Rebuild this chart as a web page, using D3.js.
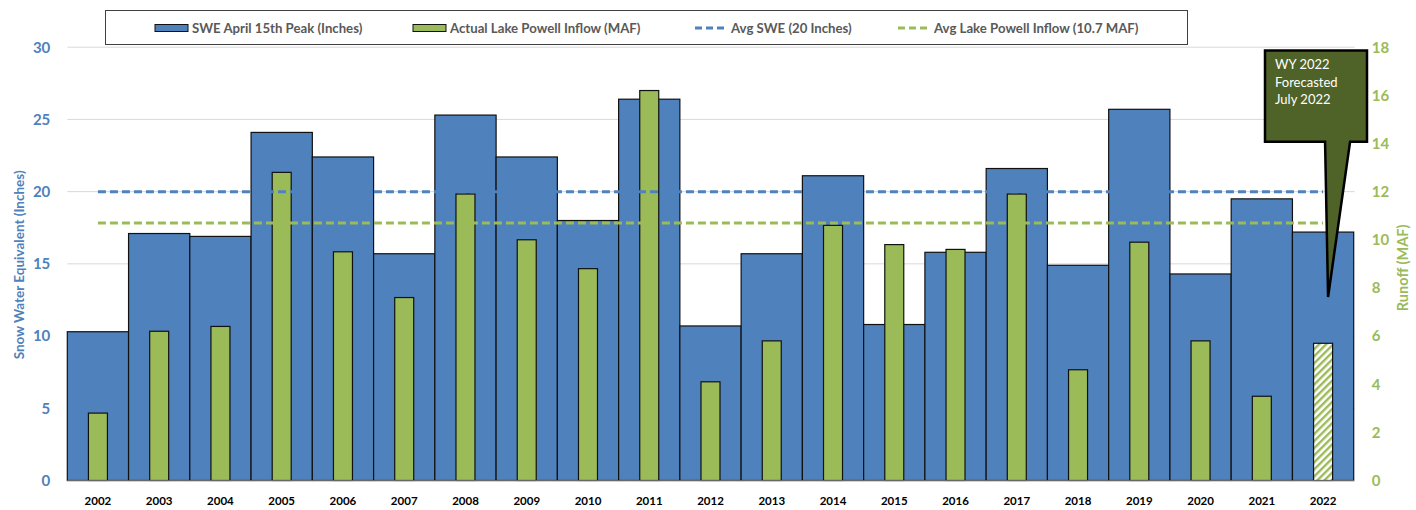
<!DOCTYPE html>
<meta charset="utf-8">
<style>
    body { margin: 0; background: #fff; }
    svg text { font-family: Lato, "Open Sans", sans-serif; }
    .grid line { stroke: #d9d9d9; stroke-width: 1; }
    .axis path { display: none; }
    .axis line { display: none; }
</style>
<svg width="1416" height="510"></svg>
<script src="https://d3js.org/d3.v7.min.js"></script>
<script>
    // values
    var years = ["2002","2003","2004","2005","2006","2007","2008","2009","2010","2011","2012",
                 "2013","2014","2015","2016","2017","2018","2019","2020","2021","2022"];
    var swe = [10.3,17.1,16.9,24.1,22.4,15.7,25.3,22.4,18.0,26.4,10.7,
               15.7,21.1,10.8,15.8,21.6,14.9,25.7,14.3,19.5,17.2];
    var inflow = [2.8,6.2,6.4,12.8,9.5,7.6,11.9,10.0,8.8,16.2,4.1,
                  5.8,10.6,9.8,9.6,11.9,4.6,9.9,5.8,3.5,5.7];
    var forecastYear = "2022";
    var avgSwe = 20, avgInflow = 10.7;
    var leftTicks = [0,5,10,15,20,25,30];
    var rightTicks = [0,2,4,6,8,10,12,14,16,18];
    var legendLabels = ["SWE April 15th Peak (Inches)", "Actual Lake Powell Inflow (MAF)",
                        "Avg SWE (20 Inches)", "Avg Lake Powell Inflow (10.7 MAF)"];
    var calloutLines = ["WY 2022", "Forecasted", "July 2022"];

    var blue = "#4f81bd", green = "#9bbb59", callFill = "#4f6228";

    var svg = d3.select("svg");
    var plotLeft = 67.3, plotRight = 1353.7, plotTop = 47.2, plotBottom = 480.5;

    var x = d3.scaleBand().domain(years).range([plotLeft, plotRight]).padding(0);
    var yL = d3.scaleLinear().domain([0, 30]).range([plotBottom, plotTop]);
    var yR = d3.scaleLinear().domain([0, 18]).range([plotBottom, plotTop]);
    var bw = x.bandwidth();
    var gw = bw * 0.31;

    var defs = svg.append("defs");
    var pat = defs.append("pattern")
        .attr("id", "hatch")
        .attr("patternUnits", "userSpaceOnUse")
        .attr("width", 5).attr("height", 5)
        .attr("patternTransform", "rotate(45)");
    pat.append("rect").attr("width", 5).attr("height", 5).attr("fill", "#fff");
    pat.append("rect").attr("width", 2.4).attr("height", 5).attr("fill", green);

    // gridlines
    svg.append("g").attr("class", "grid")
        .selectAll("line")
        .data(leftTicks.slice(1))
        .enter().append("line")
        .attr("x1", plotLeft).attr("x2", plotRight + 1)
        .attr("y1", function(d) { return yL(d); })
        .attr("y2", function(d) { return yL(d); });

    // SWE bars
    svg.append("g")
        .selectAll("rect")
        .data(years)
        .enter().append("rect")
        .attr("x", function(d) { return x(d); })
        .attr("width", bw)
        .attr("y", function(d, i) { return yL(swe[i]); })
        .attr("height", function(d, i) { return yL(0) - yL(swe[i]); })
        .attr("fill", blue)
        .attr("stroke", "#111")
        .attr("stroke-width", 1.2);

    // inflow bars
    svg.append("g")
        .selectAll("rect")
        .data(years)
        .enter().append("rect")
        .attr("x", function(d) { return x(d) + bw / 2 - gw / 2; })
        .attr("width", gw)
        .attr("y", function(d, i) { return yR(inflow[i]); })
        .attr("height", function(d, i) { return yR(0) - yR(inflow[i]); })
        .attr("fill", function(d) { return d === forecastYear ? "url(#hatch)" : green; })
        .attr("stroke", "#111")
        .attr("stroke-width", 1.2);

    // baseline
    svg.append("line")
        .attr("x1", plotLeft).attr("x2", plotRight + 1)
        .attr("y1", plotBottom + 0.5).attr("y2", plotBottom + 0.5)
        .attr("stroke", "#bfbfbf").attr("stroke-width", 1.2);

    // average lines
    var x0 = x(years[0]) + bw / 2, x1 = x(years[years.length - 1]) + bw / 2;
    svg.append("line")
        .attr("x1", x0).attr("x2", x1)
        .attr("y1", yL(avgSwe)).attr("y2", yL(avgSwe))
        .attr("stroke", blue).attr("stroke-width", 3)
        .attr("stroke-dasharray", "8,4");
    svg.append("line")
        .attr("x1", x0).attr("x2", x1)
        .attr("y1", yR(avgInflow)).attr("y2", yR(avgInflow))
        .attr("stroke", green).attr("stroke-width", 3)
        .attr("stroke-dasharray", "8,4");

    // axes
    svg.append("g").attr("class", "axis")
        .attr("transform", "translate(" + plotLeft + ",0)")
        .call(d3.axisLeft(yL).tickValues(leftTicks).tickSize(0).tickPadding(17))
        .selectAll("text")
        .attr("fill", blue).style("font-size", "15px").style("font-weight", "bold");

    svg.append("g").attr("class", "axis")
        .attr("transform", "translate(" + plotRight + ",0)")
        .call(d3.axisRight(yR).tickValues(rightTicks).tickSize(0).tickPadding(18))
        .selectAll("text")
        .attr("fill", green).style("font-size", "15px").style("font-weight", "bold");

    svg.append("g").attr("class", "axis")
        .attr("transform", "translate(0," + plotBottom + ")")
        .call(d3.axisBottom(x).tickSize(0).tickPadding(16))
        .selectAll("text")
        .attr("fill", "#000").style("font-size", "11.5px").style("font-weight", "bold");

    // axis titles
    svg.append("text")
        .attr("transform", "translate(23.5," + ((plotTop + plotBottom) / 2 + 1) + ") rotate(-90)")
        .attr("text-anchor", "middle")
        .attr("fill", blue).style("font-size", "13.5px").style("font-weight", "bold")
        .text("Snow Water Equivalent (Inches)");
    svg.append("text")
        .attr("transform", "translate(1408," + ((plotTop + plotBottom) / 2 + 4) + ") rotate(-90)")
        .attr("text-anchor", "middle")
        .attr("fill", green).style("font-size", "14.5px").style("font-weight", "bold")
        .text("Runoff (MAF)");

    // legend
    var lg = svg.append("g");
    lg.append("rect")
        .attr("x", 105.5).attr("y", 10.5).attr("width", 1082).attr("height", 34)
        .attr("fill", "#fff").attr("stroke", "#404040").attr("stroke-width", 1);
    var legendX = [155, 413, 695, 898];
    legendLabels.forEach(function(lab, i) {
        var lx = legendX[i];
        if (i < 2) {
            lg.append("rect")
                .attr("x", lx).attr("y", 24.5).attr("width", 33).attr("height", 7)
                .attr("fill", i === 0 ? blue : green)
                .attr("stroke", "#111").attr("stroke-width", 1);
        } else {
            lg.append("line")
                .attr("x1", lx).attr("x2", lx + 32)
                .attr("y1", 28).attr("y2", 28)
                .attr("stroke", i === 2 ? blue : green).attr("stroke-width", 3)
                .attr("stroke-dasharray", "7,4");
        }
        lg.append("text")
            .attr("x", lx + (i < 2 ? 37 : 36)).attr("y", 32.5)
            .attr("fill", "#595959").style("font-size", "13.2px").style("font-weight", "bold")
            .text(lab);
    });

    // callout for the forecast year
    var cx = x(forecastYear) + bw / 2 + 5;
    var tipY = 297;
    var cl = 1265, cr = 1367, ct = 50.5, cb = 141.7;
    var path = "M" + cl + "," + ct + "H" + cr + "V" + cb + "H" + (cx + 22) +
               "L" + cx + "," + tipY + "L" + (cx - 3) + "," + cb + "H" + cl + "Z";
    svg.append("path")
        .attr("d", path)
        .attr("fill", callFill)
        .attr("stroke", "#000").attr("stroke-width", 2.5)
        .attr("stroke-linejoin", "miter");
    svg.append("g")
        .selectAll("text")
        .data(calloutLines)
        .enter().append("text")
        .attr("x", 1275)
        .attr("y", function(d, i) { return 69 + i * 17.5; })
        .attr("fill", "#fff").style("font-size", "13px")
        .text(function(d) { return d; });
</script>
